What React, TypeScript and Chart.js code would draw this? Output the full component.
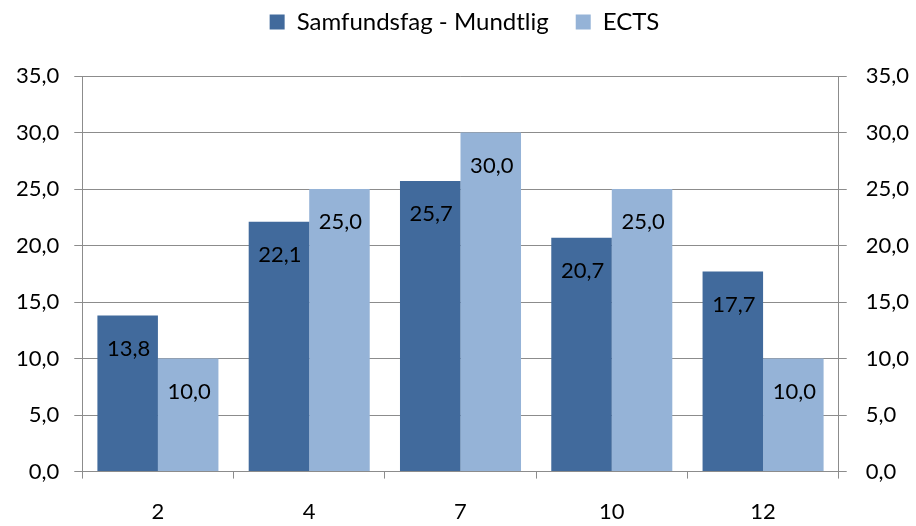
import React, { useEffect, useRef } from "react";
import { Chart, registerables } from "chart.js";

Chart.register(...registerables);

const categories = ["2", "4", "7", "10", "12"];
const seriesNames = ["Samfundsfag - Mundtlig", "ECTS"];
const mundtlig = [13.8, 22.1, 25.7, 20.7, 17.7];
const ects = [10.0, 25.0, 30.0, 25.0, 10.0];
const colors = ["#416A9C", "#95B3D7"];

const FONT = "Lato, 'Open Sans', sans-serif";
const GRID = "#8c8c8c";
const fmt = (v: number) => v.toFixed(1).replace(".", ",");

const labelPlugin = {
  id: "barLabels",
  afterDatasetsDraw(chart: any) {
    const ctx = chart.ctx;
    ctx.save();
    ctx.font = `22px ${FONT}`;
    ctx.fillStyle = "#000";
    ctx.textAlign = "center";
    ctx.textBaseline = "middle";
    chart.data.datasets.forEach((ds: any, i: number) => {
      const meta = chart.getDatasetMeta(i);
      meta.data.forEach((bar: any, j: number) => {
        ctx.fillText(fmt(ds.data[j]), bar.x + 1, bar.y + 33);
      });
    });
    ctx.restore();
  },
};

const legendSpace = {
  id: "legendSpace",
  beforeLayout(chart: any) {
    const lg = chart.legend;
    if (lg && !lg._patched) {
      const f = lg.fit.bind(lg);
      lg.fit = function () {
        f();
        this.height += 32;
      };
      lg._patched = true;
    }
  },
};

export default function App() {
  const ref = useRef<HTMLCanvasElement>(null);
  useEffect(() => {
    document.body.style.margin = "0";
    const tickFont = { family: FONT, size: 22 };
    const chart = new Chart(ref.current!, {
      type: "bar",
      data: {
        labels: categories,
        datasets: [
          { label: seriesNames[0], data: mundtlig, backgroundColor: colors[0], yAxisID: "y" },
          { label: seriesNames[1], data: ects, backgroundColor: colors[1], yAxisID: "y" },
        ],
      },
      options: {
        animation: false,
        responsive: false,
        maintainAspectRatio: false,
        layout: { padding: { left: 1, right: -12, top: -17, bottom: -19 } },
        datasets: { bar: { categoryPercentage: 0.8, barPercentage: 1.0 } },
        plugins: {
          legend: {
            position: "top",
            labels: {
              font: { family: FONT, size: 24 },
              color: "#000",
              boxWidth: 15,
              boxHeight: 15,
              padding: 27,
            },
          },
          tooltip: { enabled: false },
        },
        scales: {
          x: {
            grid: { offset: true, drawOnChartArea: false, tickLength: 7, color: GRID },
            border: { color: GRID },
            ticks: { font: tickFont, color: "#000", padding: 20 },
          },
          y: {
            min: 0,
            max: 35,
            position: "left",
            grid: { color: GRID, tickLength: 8 },
            border: { color: GRID },
            ticks: {
              stepSize: 5,
              font: tickFont,
              color: "#000",
              padding: 15,
              callback: (v: any) => fmt(Number(v)),
            },
          },
          y2: {
            min: 0,
            max: 35,
            position: "right",
            grid: { drawOnChartArea: false, color: GRID, tickLength: 8 },
            border: { color: GRID },
            ticks: {
              stepSize: 5,
              font: tickFont,
              color: "#000",
              padding: 19,
              callback: (v: any) => fmt(Number(v)),
            },
          },
        },
      },
      plugins: [labelPlugin, legendSpace],
    });
    return () => chart.destroy();
  }, []);
  return <canvas ref={ref} width={916} height={526} style={{ display: "block" }} />;
}
